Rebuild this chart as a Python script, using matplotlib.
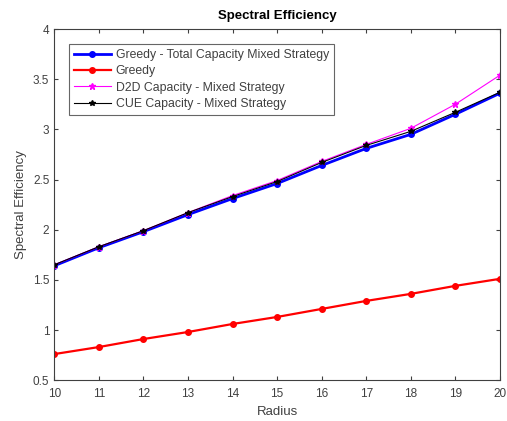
import matplotlib
matplotlib.use("Agg")
import matplotlib.pyplot as plt

radius = [10, 11, 12, 13, 14, 15, 16, 17, 18, 19, 20]
greedy_total = [1.64, 1.82, 1.98, 2.15, 2.31, 2.46, 2.64, 2.81, 2.95, 3.15, 3.36]
greedy = [0.76, 0.83, 0.91, 0.98, 1.06, 1.13, 1.21, 1.29, 1.36, 1.44, 1.51]
d2d = [1.65, 1.83, 1.99, 2.17, 2.34, 2.49, 2.68, 2.85, 3.01, 3.25, 3.54]
cue = [1.65, 1.83, 1.99, 2.17, 2.33, 2.48, 2.67, 2.84, 2.98, 3.17, 3.37]
labels = ["Greedy - Total Capacity Mixed Strategy", "Greedy",
          "D2D Capacity - Mixed Strategy", "CUE Capacity - Mixed Strategy"]

plt.rcParams['font.family'] = ['Liberation Sans', 'DejaVu Sans']
fig = plt.figure(figsize=(5.07, 4.21), dpi=100)
ax = fig.add_axes([0.107, 0.097, 0.879, 0.834])

ax.plot(radius, greedy_total, color='#0000ff', lw=2.0, marker='o', ms=4, label=labels[0])
ax.plot(radius, greedy, color='#ff0000', lw=1.6, marker='o', ms=4, label=labels[1])
ax.plot(radius, d2d, color='#ff00ff', lw=0.8, marker='*', ms=5, label=labels[2])
ax.plot(radius, cue, color='#000000', lw=0.8, marker='*', ms=4, label=labels[3])

ax.set_xlim(10, 20)
ax.set_ylim(0.5, 4)
ax.set_xticks(radius)
ax.set_yticks([0.5, 1, 1.5, 2, 2.5, 3, 3.5, 4])
ax.set_yticklabels(['0.5', '1', '1.5', '2', '2.5', '3', '3.5', '4'])
ax.tick_params(direction='in', top=True, right=True, labelsize=8.5, colors='#404040', length=3)
ax.tick_params(axis='x', pad=6)
for s in ax.spines.values():
    s.set_color('#404040')
    s.set_linewidth(0.8)

ax.set_title("Spectral Efficiency", fontsize=9.5, fontweight='bold', pad=7)
ax.set_xlabel("Radius", fontsize=9.5, color='#404040', labelpad=4)
ax.set_ylabel("Spectral Efficiency", fontsize=9.5, color='#404040', labelpad=4)

leg = ax.legend(loc='upper left', fontsize=8.8, frameon=True, fancybox=False,
                edgecolor='#404040', handlelength=3.0, borderpad=0.4,
                labelspacing=0.36, handletextpad=0.4, bbox_to_anchor=(0.02, 0.975))
leg.get_frame().set_linewidth(0.8)
for t in leg.get_texts():
    t.set_color('#404040')

fig.savefig("out.png", dpi=100)
